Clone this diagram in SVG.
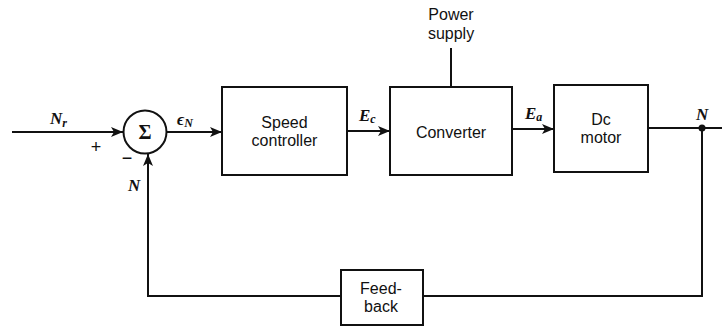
<svg xmlns="http://www.w3.org/2000/svg" width="722" height="327" viewBox="0 0 722 327">
<style>
.box{fill:#fff;stroke:#111;stroke-width:2}
.ln{fill:none;stroke:#111;stroke-width:2}
.t{font-family:"Liberation Sans",Arial,sans-serif;font-size:16px;fill:#111;text-anchor:middle}
.v{font-family:"Liberation Serif","Times New Roman",serif;font-size:17px;font-style:italic;font-weight:bold;fill:#111}
.s{font-family:"Liberation Serif","Times New Roman",serif;font-size:12px;font-style:italic;font-weight:bold;fill:#111}
</style>
<defs>
<marker id="ah" viewBox="0 0 12 10" refX="12" refY="5" markerWidth="12" markerHeight="10" markerUnits="userSpaceOnUse" orient="auto">
<path d="M0,0 L12,5 L0,10 L3,5 Z" fill="#111"/>
</marker>
</defs>
<rect width="722" height="327" fill="#fff"/>
<g id="connectors">
<line class="ln" x1="12" y1="132" x2="123" y2="132" marker-end="url(#ah)"/>
<line class="ln" x1="167" y1="132" x2="222" y2="132" marker-end="url(#ah)"/>
<line class="ln" x1="347" y1="131" x2="390" y2="131" marker-end="url(#ah)"/>
<line class="ln" x1="512" y1="129" x2="554" y2="129" marker-end="url(#ah)"/>
<line class="ln" x1="451" y1="48" x2="451" y2="87"/>
<line class="ln" x1="648" y1="128" x2="722" y2="128"/>
<circle cx="702" cy="128" r="3.5" fill="#111"/>
<polyline class="ln" points="702,128 702,296 423,296"/>
<polyline class="ln" points="341,296 148,296 148,154" marker-end="url(#ah)"/>
</g>
<g id="sum">
<circle class="box" cx="145" cy="132" r="21.5"/>
<text x="145" y="139" style="font-family:'Liberation Serif',serif;font-size:20px;font-weight:bold;fill:#111;text-anchor:middle">Σ</text>
</g>
<g id="speed-controller">
<rect class="box" x="222" y="87" width="125" height="88"/>
<text class="t" x="284.5" y="128">Speed</text>
<text class="t" x="284.5" y="146">controller</text>
</g>
<g id="converter">
<rect class="box" x="390" y="87" width="122" height="88"/>
<text class="t" x="451" y="138">Converter</text>
</g>
<g id="power-supply">
<text class="t" x="451" y="20">Power</text>
<text class="t" x="451" y="39">supply</text>
</g>
<g id="dc-motor">
<rect class="box" x="554" y="85" width="94" height="87"/>
<text class="t" x="601" y="125">Dc</text>
<text class="t" x="601" y="143">motor</text>
</g>
<g id="feedback">
<rect class="box" x="341" y="270" width="82" height="55"/>
<text class="t" x="381" y="294">Feed-</text>
<text class="t" x="381" y="312">back</text>
</g>
<g id="labels">
<text class="v" x="50" y="124">N<tspan class="s" dy="3">r</tspan></text>
<text class="t" x="96" y="153" style="font-size:18px">+</text>
<text class="t" x="127" y="164" style="font-size:18px">−</text>
<text class="v" x="128" y="191">N</text>
<text class="v" x="177" y="125">ϵ<tspan class="s" dy="2">N</tspan></text>
<text class="v" x="359" y="121">E<tspan class="s" dy="2">c</tspan></text>
<text class="v" x="525" y="119">E<tspan class="s" dy="2">a</tspan></text>
<text class="v" x="696" y="120">N</text>
</g>
</svg>
